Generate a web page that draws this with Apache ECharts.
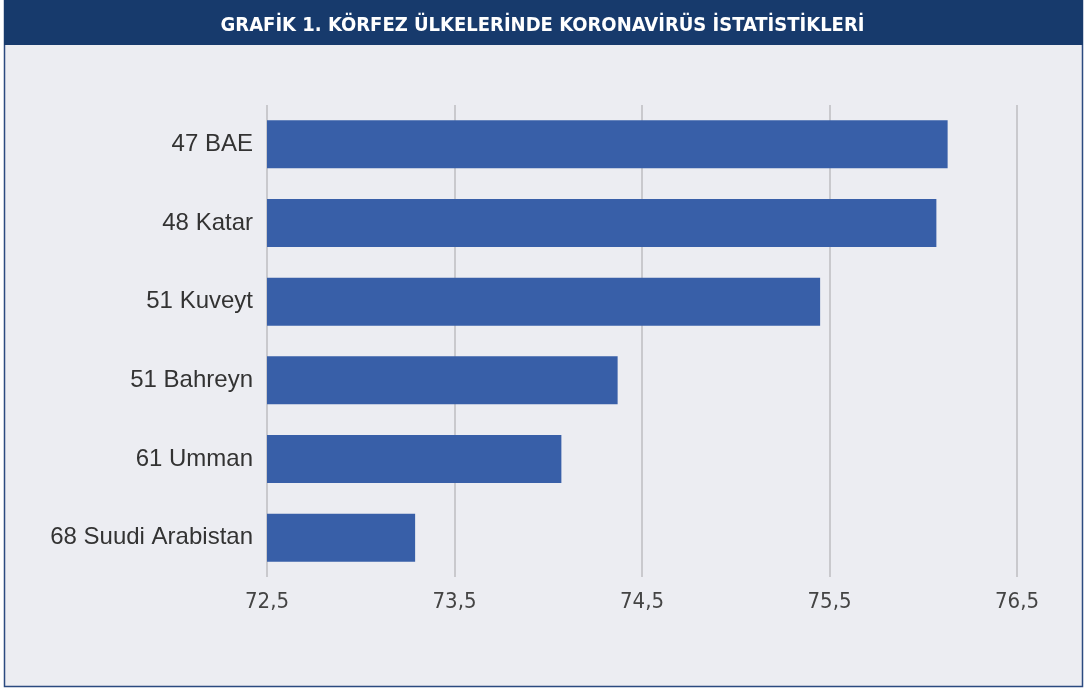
<!DOCTYPE html>
<html>
<head>
<meta charset="utf-8">
<script src="https://cdn.jsdelivr.net/npm/echarts@6/dist/echarts.min.js"></script>
<style>
  html, body { margin: 0; padding: 0; background: #fff; }
  #chart { width: 1085px; height: 688px; }
</style>
</head>
<body>
<div id="chart"></div>
<script>
// categories from top to bottom
const categories = ['47 BAE', '48 Katar', '51 Kuveyt', '51 Bahreyn', '61 Umman', '68 Suudi Arabistan']
const values = [76.13, 76.07, 75.45, 74.37, 74.07, 73.29]
const tickLabels = ['72,5', '73,5', '74,5', '75,5', '76,5']

const chart = echarts.init(document.getElementById('chart'))
chart.setOption({
  backgroundColor: '#ffffff',
  animation: false,
  graphic: [
    {
      type: 'rect', z: -10,
      shape: { x: 4.5, y: 0.5, width: 1078, height: 686 },
      style: { fill: '#ecedf2', stroke: '#2b4a80', lineWidth: 1.5 }
    },
    {
      type: 'rect', z: -9,
      shape: { x: 4, y: 0, width: 1079, height: 45 },
      style: { fill: '#173a6c' }
    }
  ],
  title: {
    text: 'GRAFİK 1. KÖRFEZ ÜLKELERİNDE KORONAVİRÜS İSTATİSTİKLERİ',
    left: 'center',
    top: 11,
    textStyle: {
      color: '#ffffff',
      fontFamily: 'DejaVu Sans Condensed',
      fontWeight: 'bold',
      fontSize: 20
    }
  },
  grid: { left: 267, right: 68, top: 105, bottom: 111 },
  xAxis: {
    type: 'value',
    min: 72.5,
    max: 76.5,
    interval: 1,
    axisLine: { show: false },
    axisTick: { show: false },
    splitLine: { lineStyle: { color: '#c9c9cd', width: 2 } },
    axisLabel: {
      margin: 14,
      color: '#444',
      fontFamily: 'DejaVu Sans Condensed',
      fontSize: 22,
      formatter: v => tickLabels[Math.round(v - 72.5)]
    }
  },
  yAxis: {
    type: 'category',
    inverse: true,
    data: categories,
    axisLine: { show: false },
    axisTick: { show: false },
    axisLabel: {
      margin: 14,
      color: '#333',
      fontFamily: 'Liberation Sans',
      fontSize: 24
    }
  },
  series: [{
    type: 'bar',
    data: values,
    barWidth: 48,
    itemStyle: { color: '#385fa8' }
  }]
})
</script>
</body>
</html>
